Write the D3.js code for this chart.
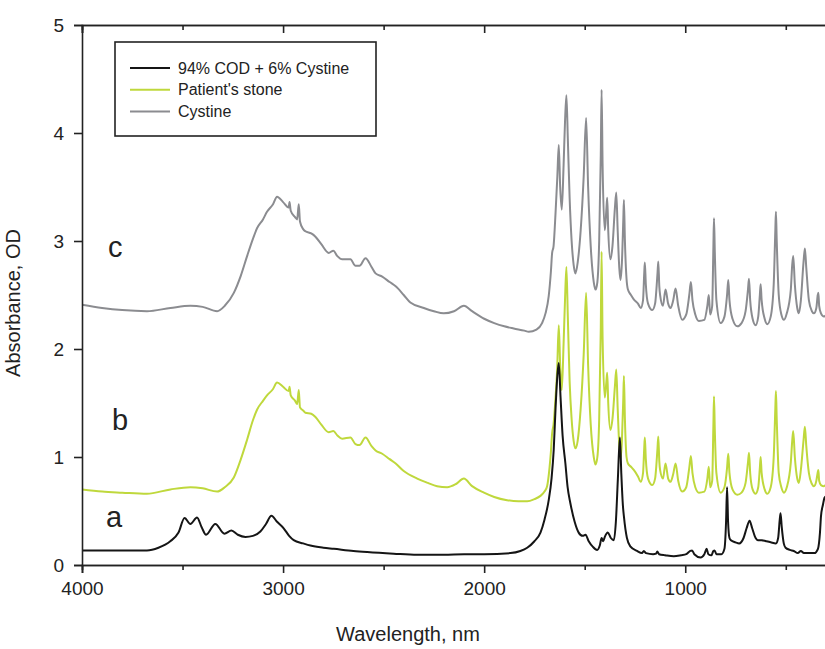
<!DOCTYPE html>
<html>
<head>
<meta charset="utf-8">
<script src="https://cdn.jsdelivr.net/npm/d3@7"></script>
<style>
  html, body { margin: 0; padding: 0; background: #fff; overflow: hidden; }
  svg { display: block; }
  text { font-family: "Liberation Sans", Arial, sans-serif; fill: #222; }
</style>
</head>
<body>
<div id="graph-container"></div>
<script>
// Wavenumber / absorbance pairs, one array per spectrum
const cystine = [
  [4000, 2.41], [3900, 2.38], [3800, 2.36], [3677, 2.35], [3560, 2.38], [3461, 2.40], [3400, 2.39],
  [3328, 2.35], [3290, 2.40], [3245, 2.52], [3210, 2.68], [3179, 2.86], [3150, 3.02], [3129, 3.12],
  [3100, 3.20], [3080, 3.27], [3050, 3.34], [3030, 3.41], [3000, 3.36], [2972, 3.31], [2968, 3.36],
  [2962, 3.28], [2940, 3.22], [2930, 3.20], [2922, 3.34], [2916, 3.18], [2900, 3.11], [2889, 3.09],
  [2860, 3.07], [2839, 3.04], [2810, 2.97], [2773, 2.89], [2750, 2.91], [2730, 2.86], [2706, 2.83],
  [2665, 2.83], [2640, 2.77], [2620, 2.77], [2590, 2.84], [2560, 2.76], [2540, 2.70], [2507, 2.67],
  [2470, 2.62], [2440, 2.58], [2400, 2.50], [2367, 2.43], [2300, 2.38], [2250, 2.35], [2201, 2.33],
  [2150, 2.35], [2101, 2.40], [2060, 2.35], [2000, 2.28], [1950, 2.24], [1900, 2.21], [1853, 2.19],
  [1800, 2.17], [1778, 2.16], [1740, 2.18], [1712, 2.24], [1695, 2.33], [1679, 2.49], [1668, 2.72],
  [1662, 2.89], [1655, 2.95], [1645, 3.26], [1636, 3.60], [1629, 3.89], [1622, 3.50], [1614, 3.29],
  [1605, 3.70], [1598, 4.10], [1591, 4.35], [1584, 3.95], [1575, 3.40], [1565, 3.00], [1555, 2.78],
  [1546, 2.70], [1535, 2.80], [1520, 3.10], [1505, 3.60], [1493, 4.14], [1483, 3.50], [1470, 2.95],
  [1455, 2.62], [1446, 2.55], [1437, 2.62], [1428, 3.00], [1420, 3.80], [1416, 4.40], [1411, 3.70],
  [1400, 3.10], [1392, 3.30], [1388, 3.40], [1383, 3.10], [1372, 2.83], [1362, 2.95], [1350, 3.30],
  [1343, 3.45], [1336, 3.10], [1328, 2.75], [1322, 2.64], [1315, 2.80], [1308, 3.20], [1305, 3.38],
  [1300, 3.00], [1292, 2.65], [1285, 2.55], [1270, 2.50], [1256, 2.46], [1235, 2.42], [1221, 2.38],
  [1210, 2.45], [1204, 2.70], [1201, 2.80], [1196, 2.60], [1185, 2.42], [1164, 2.36], [1150, 2.42],
  [1138, 2.70], [1134, 2.81], [1129, 2.58], [1125, 2.50], [1111, 2.40], [1098, 2.55], [1085, 2.42],
  [1073, 2.38], [1060, 2.45], [1048, 2.56], [1035, 2.40], [1015, 2.27], [995, 2.32], [980, 2.50],
  [972, 2.62], [964, 2.45], [950, 2.32], [932, 2.26], [905, 2.27], [890, 2.40], [883, 2.50],
  [876, 2.32], [866, 2.40], [860, 2.95], [857, 3.21], [853, 2.90], [845, 2.45], [824, 2.24],
  [805, 2.30], [792, 2.50], [786, 2.64], [780, 2.45], [765, 2.28], [741, 2.21], [720, 2.24],
  [700, 2.35], [688, 2.55], [683, 2.65], [677, 2.45], [665, 2.28], [650, 2.22], [637, 2.30],
  [629, 2.50], [625, 2.60], [620, 2.45], [605, 2.28], [592, 2.23], [575, 2.30], [560, 2.60],
  [552, 3.10], [549, 3.27], [545, 3.00], [535, 2.50], [522, 2.32], [509, 2.27], [495, 2.33],
  [475, 2.55], [468, 2.78], [463, 2.86], [455, 2.60], [443, 2.38], [435, 2.33], [425, 2.45],
  [412, 2.80], [405, 2.93], [398, 2.75], [385, 2.45], [370, 2.35], [360, 2.33], [348, 2.38],
  [341, 2.50], [338, 2.52], [334, 2.40], [325, 2.33], [310, 2.30], [297, 2.32]
];

const patientStone = [
  [4000, 0.70], [3900, 0.68], [3800, 0.67], [3677, 0.66], [3560, 0.70], [3461, 0.72], [3400, 0.71],
  [3328, 0.68], [3290, 0.72], [3245, 0.81], [3210, 0.98], [3179, 1.16], [3150, 1.34], [3129, 1.44],
  [3100, 1.52], [3080, 1.57], [3050, 1.63], [3030, 1.69], [3000, 1.65], [2972, 1.61], [2968, 1.65],
  [2962, 1.57], [2940, 1.52], [2930, 1.49], [2922, 1.62], [2916, 1.46], [2900, 1.43], [2889, 1.41],
  [2860, 1.40], [2839, 1.37], [2810, 1.30], [2773, 1.23], [2750, 1.24], [2730, 1.20], [2706, 1.17],
  [2665, 1.18], [2640, 1.12], [2620, 1.11], [2590, 1.18], [2560, 1.10], [2540, 1.06], [2507, 1.03],
  [2470, 0.98], [2440, 0.94], [2400, 0.87], [2333, 0.80], [2280, 0.76], [2234, 0.73], [2184, 0.72],
  [2140, 0.75], [2101, 0.80], [2060, 0.73], [2001, 0.67], [1950, 0.63], [1886, 0.60], [1830, 0.59],
  [1786, 0.59], [1750, 0.61], [1720, 0.64], [1700, 0.68], [1687, 0.73], [1675, 0.90], [1668, 1.05],
  [1662, 1.22], [1655, 1.30], [1645, 1.55], [1637, 1.81], [1629, 2.22], [1622, 1.85], [1614, 1.62],
  [1605, 2.05], [1598, 2.45], [1591, 2.76], [1584, 2.30], [1575, 1.70], [1565, 1.35], [1555, 1.15],
  [1546, 1.08], [1535, 1.15], [1520, 1.45], [1505, 1.95], [1493, 2.52], [1483, 1.85], [1470, 1.30],
  [1455, 1.00], [1446, 0.93], [1437, 1.00], [1428, 1.35], [1420, 2.20], [1416, 2.90], [1411, 2.10],
  [1400, 1.55], [1392, 1.70], [1388, 1.78], [1383, 1.50], [1372, 1.25], [1362, 1.35], [1350, 1.65],
  [1343, 1.81], [1336, 1.45], [1328, 1.10], [1322, 0.98], [1315, 1.15], [1308, 1.55], [1305, 1.75],
  [1300, 1.35], [1292, 1.00], [1285, 0.94], [1270, 0.91], [1256, 0.88], [1235, 0.82], [1221, 0.77],
  [1210, 0.85], [1204, 1.08], [1201, 1.18], [1196, 0.98], [1185, 0.80], [1164, 0.74], [1150, 0.80],
  [1138, 1.08], [1134, 1.19], [1129, 0.96], [1125, 0.88], [1111, 0.80], [1098, 0.94], [1085, 0.80],
  [1073, 0.77], [1060, 0.84], [1048, 0.94], [1035, 0.78], [1015, 0.68], [995, 0.72], [980, 0.90],
  [972, 1.01], [964, 0.85], [950, 0.72], [932, 0.67], [905, 0.68], [890, 0.80], [883, 0.91],
  [876, 0.72], [866, 0.78], [860, 1.30], [857, 1.56], [853, 1.25], [845, 0.85], [824, 0.67],
  [805, 0.72], [792, 0.90], [786, 1.03], [780, 0.85], [765, 0.70], [741, 0.65], [720, 0.67],
  [700, 0.76], [688, 0.95], [683, 1.04], [677, 0.85], [665, 0.70], [650, 0.66], [637, 0.72],
  [629, 0.90], [625, 1.00], [620, 0.85], [605, 0.70], [592, 0.66], [575, 0.72], [560, 1.00],
  [552, 1.45], [549, 1.61], [545, 1.35], [535, 0.85], [522, 0.72], [509, 0.67], [495, 0.72],
  [475, 0.95], [468, 1.15], [463, 1.24], [455, 1.00], [443, 0.80], [435, 0.76], [425, 0.88],
  [412, 1.15], [405, 1.28], [398, 1.10], [385, 0.85], [370, 0.75], [360, 0.73], [348, 0.78],
  [341, 0.86], [338, 0.88], [334, 0.78], [325, 0.74], [310, 0.73], [297, 0.75]
];

const codCystine = [
  [4000, 0.135], [3850, 0.135], [3677, 0.135], [3620, 0.16], [3561, 0.22], [3520, 0.30], [3490, 0.435],
  [3461, 0.38], [3428, 0.44], [3405, 0.35], [3383, 0.28], [3337, 0.38], [3292, 0.29], [3257, 0.32],
  [3225, 0.28], [3187, 0.26], [3150, 0.27], [3113, 0.31], [3085, 0.38], [3058, 0.456], [3030, 0.40],
  [2997, 0.34], [2970, 0.27], [2947, 0.23], [2900, 0.20], [2864, 0.18], [2800, 0.16], [2748, 0.15],
  [2650, 0.13], [2582, 0.12], [2450, 0.105], [2333, 0.095], [2200, 0.095], [2100, 0.10], [2000, 0.10],
  [1869, 0.11], [1820, 0.13], [1786, 0.16], [1750, 0.22], [1720, 0.30], [1700, 0.42], [1679, 0.60],
  [1665, 0.80], [1654, 1.07], [1645, 1.45], [1636, 1.75], [1629, 1.87], [1620, 1.55], [1610, 1.20],
  [1596, 0.94], [1585, 0.72], [1571, 0.57], [1550, 0.40], [1530, 0.30], [1510, 0.27], [1496, 0.28],
  [1480, 0.22], [1460, 0.17], [1438, 0.14], [1425, 0.18], [1416, 0.25], [1408, 0.22], [1400, 0.26],
  [1385, 0.30], [1370, 0.25], [1355, 0.23], [1345, 0.40], [1335, 0.80], [1325, 1.18], [1318, 0.85],
  [1310, 0.55], [1305, 0.45], [1290, 0.25], [1272, 0.17], [1240, 0.13], [1215, 0.11], [1206, 0.13],
  [1195, 0.11], [1160, 0.10], [1145, 0.105], [1139, 0.125], [1130, 0.10], [1100, 0.09], [1057, 0.08],
  [1020, 0.09], [995, 0.10], [975, 0.13], [966, 0.135], [955, 0.10], [924, 0.07], [905, 0.10],
  [894, 0.15], [885, 0.10], [870, 0.09], [860, 0.13], [854, 0.135], [845, 0.10], [820, 0.10],
  [805, 0.15], [797, 0.40], [792, 0.72], [787, 0.40], [780, 0.25], [773, 0.23], [750, 0.21],
  [732, 0.20], [710, 0.25], [695, 0.34], [680, 0.41], [667, 0.34], [650, 0.25], [639, 0.23],
  [620, 0.23], [598, 0.22], [575, 0.21], [549, 0.20], [538, 0.25], [530, 0.42], [526, 0.48],
  [520, 0.35], [510, 0.20], [501, 0.16], [480, 0.14], [460, 0.13], [440, 0.11], [425, 0.13],
  [410, 0.11], [385, 0.11], [358, 0.11], [340, 0.15], [330, 0.30], [325, 0.45], [315, 0.56],
  [308, 0.62], [297, 0.64]
];

const seriesNames = ["94% COD + 6% Cystine", "Patient's stone", "Cystine"];
const seriesColors = ["#151515", "#bfd83c", "#8b8c90"];
const curveLetters = ["a", "b", "c"];
const letterPositions = [[106, 0.35], [112, 1.25], [108, 2.85]];
const xMajorTicks = [4000, 3000, 2000, 1000];
const xMinorTicks = [3500, 2500, 1500, 500];
const yTicks = [0, 1, 2, 3, 4, 5];

// Size of the picture and of the plotting frame
const graphWidth = 825;
const graphHeight = 649;
const margin = { top: 25, right: 0, bottom: 84, left: 82 };
const innerWidth = 744;
const innerHeight = graphHeight - margin.top - margin.bottom;

const svg = d3
  .select("#graph-container")
  .append("svg")
  .attr("width", graphWidth)
  .attr("height", graphHeight);

const g = svg.append("g").attr("transform", `translate(${margin.left},${margin.top})`);

// Scales: wavenumber runs from high to low
const xScale = d3.scaleLinear().domain([4000, 300]).range([0, innerWidth]);
const yScale = d3.scaleLinear().domain([0, 5]).range([innerHeight, 0]);

svg.append("clipPath")
  .attr("id", "plot-clip")
  .append("rect")
  .attr("x", 0)
  .attr("y", -2)
  .attr("width", graphWidth - margin.left)
  .attr("height", innerHeight + 2);

const line = d3.line()
  .x(d => xScale(d[0]))
  .y(d => yScale(d[1]))
  .curve(d3.curveMonotoneX);

// Spectra, cystine underneath and the mixture on top
const spectra = [codCystine, patientStone, cystine];
[2, 1, 0].forEach(i => {
  g.append("path")
    .datum(spectra[i])
    .attr("clip-path", "url(#plot-clip)")
    .attr("fill", "none")
    .attr("stroke", seriesColors[i])
    .attr("stroke-width", 2)
    .attr("stroke-linejoin", "round")
    .attr("d", line);
});

// Axes
const styleAxis = sel => {
  sel.select(".domain").attr("stroke", "#222").attr("stroke-width", 1.6);
  sel.selectAll(".tick line").attr("stroke", "#222").attr("stroke-width", 1.6);
  sel.selectAll(".tick text")
    .attr("font-size", 19)
    .attr("font-family", "Liberation Sans, Arial, sans-serif")
    .attr("fill", "#222");
};

// ticks without labels: drop the empty text nodes
const dropLabels = sel => sel.selectAll(".tick text").remove();

g.append("g")
  .attr("transform", `translate(0,${innerHeight})`)
  .call(d3.axisBottom(xScale).tickValues(xMajorTicks).tickSize(8).tickPadding(9).tickFormat(d3.format("d")))
  .call(styleAxis);

g.append("g")
  .attr("transform", `translate(0,${innerHeight})`)
  .call(d3.axisBottom(xScale).tickValues(xMinorTicks).tickSize(5))
  .call(styleAxis)
  .call(dropLabels);

g.append("g")
  .call(d3.axisTop(xScale).tickValues(xMajorTicks).tickSize(-8))
  .call(styleAxis)
  .call(dropLabels);

g.append("g")
  .call(d3.axisTop(xScale).tickValues(xMinorTicks).tickSize(-5))
  .call(styleAxis)
  .call(dropLabels);

g.append("g")
  .call(d3.axisLeft(yScale).tickValues(yTicks).tickSize(8).tickPadding(10).tickFormat(d3.format("d")))
  .call(styleAxis);

// Axis titles
g.append("text")
  .attr("x", 326)
  .attr("y", innerHeight + 76)
  .attr("text-anchor", "middle")
  .attr("font-size", 20)
  .text("Wavelength, nm");

g.append("text")
  .attr("transform", "rotate(-90)")
  .attr("x", -278)
  .attr("y", -62)
  .attr("text-anchor", "middle")
  .attr("font-size", 20)
  .text("Absorbance, OD");

// Curve letters
curveLetters.forEach((letter, i) => {
  g.append("text")
    .attr("x", letterPositions[i][0] - margin.left)
    .attr("y", yScale(letterPositions[i][1]))
    .attr("font-size", 29)
    .text(letter);
});

// Legend
const legend = g.append("g").attr("transform", "translate(33,17)");
legend.append("rect")
  .attr("width", 261)
  .attr("height", 94)
  .attr("fill", "#fff")
  .attr("stroke", "#222")
  .attr("stroke-width", 1.6);

seriesNames.forEach((name, i) => {
  const row = legend.append("g").attr("transform", `translate(0,${26 + i * 21.7})`);
  row.append("line")
    .attr("x1", 15)
    .attr("x2", 55)
    .attr("stroke", seriesColors[i])
    .attr("stroke-width", 2);
  row.append("text")
    .attr("x", 63)
    .attr("dy", "0.35em")
    .attr("font-size", 16)
    .text(name);
});
</script>
</body>
</html>
